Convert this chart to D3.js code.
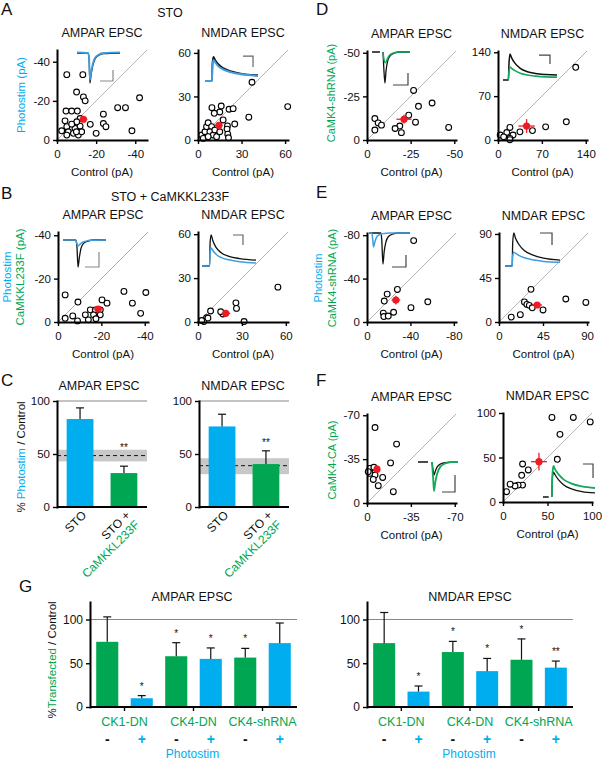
<!DOCTYPE html>
<html><head><meta charset="utf-8">
<script src="https://cdn.jsdelivr.net/npm/d3@7"></script>
<style>body{margin:0;background:#fff}</style>
</head><body><script>
// ================= DATA =================
// Scatter points: [control, test] in pA
const aAmpa = [[-5,-33.4],[-13.2,-33.4],[-10,-24.5],[-13.5,-22],[-14.4,-20],[-4.6,-14.8],[-7.5,-14.8],[-10.4,-14.8],[-11.8,-11],[-17,-8],[-20,-3.4],[-23.7,-13.2],[-23.7,-8.4],[-25,-6.8],[-31,-16.5],[-35,-16.5],[-38.3,-4.7],[-42.2,-21.6],[-4.1,-9.8],[-5,-6.8],[-2.4,-4.7],[-5.8,-4.2],[-9.2,-5.9],[-11.8,-7.1],[-8.4,-3.4],[-10.9,-2.5],[-12.6,-4.2],[-5,-2.5],[-10.1,-9.3],[-7.5,-8.1],[-9.9,-4.2]];
const aAmpaMean = [-13.5,-10.6,2.0,1.5];
const aNmda = [[37.2,39.8],[61.8,23],[9.6,22.3],[16,23.4],[15,19.3],[21.4,21.2],[24.2,21.6],[11.2,18.4],[25.3,11],[20.3,9.7],[35,15.7],[17.3,13.8],[20,7.5],[20.5,4],[21,1.5],[2.5,3.4],[4.8,5.7],[5.9,9.2],[7,11.9],[9.4,9.2],[8.2,5.7],[10.5,3.4],[3.6,1.1],[12.8,2.3],[11.6,6.9],[7,2.3],[15,5.7]];
const aNmdaMean = [14.4,10.1,2.5,2.0];
const bAmpa = [[-3.3,-12.5],[-9.2,-9.2],[-20.3,-10.2],[-22.6,-8.7],[-30.4,-14.1],[-40.5,-13.6],[-34.3,-8.7],[-38.1,-4],[-14.9,-5.6],[-17.2,-5.6],[-19.5,-5.6],[-12.6,-3.3],[-16.4,-3.3],[-19.5,-3.3],[-6.8,-2.8],[-3.3,-1.7],[-14,-1],[-17.5,-1.5],[-9,-0.5]];
const bAmpaMean = [-18.5,-6,2.5,1.0];
const bNmda = [[8.6,7.5],[5.9,3],[4,0.3],[6.8,2.7],[17,5.5],[15.5,7],[25.9,13.1],[26.3,9.3],[31.5,0.3],[54.6,23.8],[2.5,1]];
const bNmdaMean = [19,5.9,3,1.5];
const dAmpa = [[-26.7,-28.4],[-29.5,-19.3],[-37.3,-21.2],[-46.8,-7.2],[-27.8,-10.2],[-23.9,-14.2],[-18.8,-8],[-16.1,-6.6],[-19.7,-4.2],[-4.5,-12.3],[-6.4,-9.8],[-8.3,-8.5],[-4.5,-5.7]];
const dAmpaMean = [-21.2,-11.9,4.3,2.5];
const dNmda = [[124,116],[109,29],[76,21],[55,15],[35,13],[19,20],[3.5,8],[14,12],[24,8],[19,2.6],[19,0.5],[9,5]];
const dNmdaMean = [45.6,22.3,13,11];
const eAmpa = [[-43,-75],[-28,-30],[-18.6,-25.7],[-15.9,-19.3],[-56,-18.6],[-40.5,-13.2],[-24.5,-9],[-15,-8.2],[-15.5,-5],[-19.6,-5.5]];
const eAmpaMean = [-26.6,-20.2,4,4];
const eNmda = [[32.7,33.4],[26,20.5],[28.5,18],[31,17],[34,14.5],[45,12.3],[68.3,23.5],[88.8,20],[21.8,7.5],[12.5,5]];
const eNmdaMean = [39,17.4,5,3];
const fAmpa = [[-6.4,-60.2],[-23.6,-47],[-18.8,-32],[-2.4,-27.6],[-5.5,-28.5],[-2.4,-23.6],[-6.4,-22.3],[-5,-18.8],[-12.5,-20.4],[-9,-13.8],[-21,-9],[-1,-25]];
const fAmpaMean = [-8,-27,2,3];
const fNmda = [[55,95],[79,95],[98,90],[64,76],[61,48],[22,42.7],[21,30],[28.4,36],[22,19],[17,19],[13.5,18],[8,20],[4,11.6]];
const fNmdaMean = [40.4,45.3,9,10];

// Example traces: [time (% of sweep), amplitude (fraction of control peak)]
const aAmpaTrCtrl = [[0,0],[25,0],[28,-0.15],[30,-1],[33,-0.7],[37,-0.4],[42,-0.2],[50,-0.08],[62,-0.02],[100,0]];
const aAmpaTrTest = [[0,0.02],[25,0],[28,-0.12],[30,-0.9],[33,-0.62],[37,-0.35],[42,-0.16],[50,-0.06],[62,0],[100,0.02]];
const aNmdaTrCtrl = [[0,0],[13,0],[14,0.7],[16,1],[19,0.88],[25,0.7],[35,0.53],[50,0.4],[65,0.32],[80,0.27],[100,0.24]];
const aNmdaTrTest = [[0,0],[13,0],[14,0.6],[16,0.88],[19,0.78],[25,0.62],[35,0.47],[50,0.36],[65,0.29],[80,0.25],[100,0.21]];
const bAmpaTrCtrl = [[0,0],[29,0],[32,-0.15],[35,-1],[38,-0.65],[42,-0.3],[48,-0.12],[58,-0.04],[72,0],[100,0]];
const bAmpaTrTest = [[0,0],[29,0],[32,-0.12],[35,-0.22],[39,-0.16],[44,-0.1],[52,-0.05],[64,-0.01],[100,0]];
const bNmdaTrCtrl = [[0,0],[14,0],[15,0.75],[17,1],[20,0.82],[26,0.6],[36,0.42],[50,0.31],[70,0.24],[100,0.19]];
const bNmdaTrTest = [[0,0],[14,0],[15,0.45],[17,0.58],[20,0.5],[26,0.38],[36,0.27],[50,0.2],[70,0.14],[100,0.1]];
const dAmpaTrCtrl = [[0,0],[21,0],[25,null],[29,0],[31,-0.5],[34,-1],[37,-0.6],[41,-0.3],[48,-0.12],[58,-0.04],[75,0],[100,0]];
const dAmpaTrTest = [[29,0],[31,-0.2],[35,-0.35],[39,-0.26],[45,-0.12],[55,-0.04],[70,0],[100,0]];
const dNmdaTrCtrl = [[0,0],[10,0],[11,0.6],[13,1],[16,0.85],[22,0.65],[32,0.45],[45,0.32],[60,0.25],[80,0.21],[100,0.19]];
const dNmdaTrTest = [[10,0],[11,0.3],[13,0.5],[16,0.45],[22,0.36],[32,0.26],[45,0.19],[60,0.15],[80,0.12],[100,0.11]];
const eAmpaTrCtrl = [[0,0],[29,0],[31,-0.2],[34,-1],[37,-0.6],[41,-0.3],[47,-0.12],[57,-0.04],[72,0],[100,0]];
const eAmpaTrTest = [[0,0],[7,0],[9,-0.2],[11,-0.45],[14,-0.3],[18,-0.15],[24,-0.06],[34,-0.02],[50,0],[100,0]];
const eNmdaTrCtrl = [[0,0],[13,0],[14,0.7],[16,1],[19,0.85],[25,0.66],[35,0.47],[50,0.34],[70,0.24],[100,0.18]];
const eNmdaTrTest = [[0,0],[13,0],[14,0.3],[16,0.42],[19,0.39],[25,0.32],[35,0.25],[50,0.19],[70,0.14],[100,0.11]];
const fAmpaTrCtrl = [[0,0],[25,0],[30,null],[35,0],[38,-0.3],[40,-0.45],[43,-0.33],[48,-0.17],[56,-0.07],[68,-0.02],[100,0]];
const fAmpaTrTest = [[35,0],[38,-0.6],[40,-1],[43,-0.72],[48,-0.4],[56,-0.16],[68,-0.05],[85,0],[100,0]];
const fNmdaTrCtrl = [[0,0],[11,0],[14,null],[17,0],[18,0.6],[20,0.8],[23,0.72],[30,0.55],[40,0.39],[55,0.26],[75,0.17],[100,0.13]];
const fNmdaTrTest = [[17,0],[18,0.7],[20,1],[23,0.9],[30,0.73],[40,0.56],[55,0.43],[75,0.34],[100,0.29]];

// Panel C
const cCats = ['STO','STO + CaMKKL233F'];
const cTickLines = [['STO'],['STO +','CaMKKL233F']];
const cAmpaMean = [83,32], cAmpaErr = [10.5,6.5], cAmpaBand = [43,54], cAmpaBandMid = 48.5, cAmpaSig = ['','**'];
const cNmdaMean = [76,40.5], cNmdaErr = [11.5,12.5], cNmdaBand = [31,46], cNmdaBandMid = 39, cNmdaSig = ['','**'];
const cTicks = [0,50,100];

// Panel G
const gGroups = ['CK1-DN','CK4-DN','CK4-shRNA'];
const gStim = ['-','+'];
const gAmpaMean = [74.5,10,58,55,56.5,73], gAmpaErr = [28.5,3,15.5,12.5,10.5,23], gAmpaSig = ['','*','*','*','*',''];
const gNmdaMean = [73,17.6,62.8,41,54,45], gNmdaErr = [35,6.4,12.2,14.5,23.8,7.5], gNmdaSig = ['','*','*','*','*','**'];
const gTicks = [0,50,100];

// ================= DRAWING =================
const W=603,H=760;
const FONT='"Liberation Sans", Arial, Helvetica, sans-serif';
const BLUE='#00aeef', GREEN='#00a651', RED='#ed1c24', TRBLUE='#3f9ee0', TRGREEN='#14a85a', INK='#111';
const svg=d3.select('body').append('svg').attr('width',W).attr('height',H).attr('font-family',FONT);

function label(x,y,s,o={}){
  return svg.append('text').attr('x',x).attr('y',y).attr('font-size',o.size||12.5)
    .attr('fill',o.fill||INK).attr('text-anchor',o.anchor||'middle').text(s);
}
function vlabel(x,y,parts,size){
  const t=svg.append('text').attr('transform',`translate(${x},${y}) rotate(-90)`)
    .attr('text-anchor','middle').attr('font-size',size||11.5).style('white-space','pre');
  parts.forEach(p=>t.append('tspan').attr('fill',p[1]).text(p[0]));
}
function styleAxis(a,fs){
  a.attr('font-family',FONT).attr('font-size',fs);
  a.select('.domain').attr('stroke','#000').attr('stroke-width',2).attr('stroke-linecap','square');
  a.selectAll('.tick line').attr('stroke','#000').attr('stroke-width',1.4);
  a.selectAll('.tick text').attr('fill',INK);
}
function drawInset(g,ins){
  const tx=d3.scaleLinear().domain([0,100]).range([ins.x1,ins.x2]);
  const ty=d3.scaleLinear().domain([0,1]).range([ins.yb,ins.yb-ins.k]);
  const line=d3.line().defined(d=>d[1]!==null).x(d=>tx(d[0])).y(d=>ty(d[1])).curve(d3.curveMonotoneX);
  g.append('path').attr('d',line(ins.ctrl)).attr('fill','none').attr('stroke',INK).attr('stroke-width',ins.wc||1.3);
  g.append('path').attr('d',line(ins.test)).attr('fill','none').attr('stroke',ins.color).attr('stroke-width',ins.wt||1.5);
  g.append('path').attr('d',d3.line().x(d=>tx(d[0])).y(d=>ty(d[1]))(ins.bar)).attr('fill','none')
    .attr('stroke',ins.barColor||'#555').attr('stroke-width',1.2);
}
function scatter(c){
  const g=svg.append('g');
  const s=c.neg?-1:1;
  const x=d3.scaleLinear().domain([0,s*c.max]).range([c.x0,c.x0+c.size]);
  const y=d3.scaleLinear().domain([0,s*c.max]).range([c.y0,c.y0-c.size]);
  g.append('line').attr('x1',x(0)).attr('y1',y(0)).attr('x2',x(s*c.max)).attr('y2',y(s*c.max))
    .attr('stroke','#a0a0a0').attr('stroke-width',0.8);
  if(c.inset) drawInset(g,c.inset);
  g.selectAll('circle.pt').data(c.pts).join('circle').attr('class','pt')
    .attr('cx',d=>x(d[0])).attr('cy',d=>y(d[1])).attr('r',2.9)
    .attr('fill','#fff').attr('stroke','#000').attr('stroke-width',1.1);
  const m=c.mean;
  g.append('line').attr('x1',x(m[0]-m[2])).attr('x2',x(m[0]+m[2])).attr('y1',y(m[1])).attr('y2',y(m[1])).attr('stroke',RED).attr('stroke-width',1.3);
  g.append('line').attr('x1',x(m[0])).attr('x2',x(m[0])).attr('y1',y(m[1]-m[3])).attr('y2',y(m[1]+m[3])).attr('stroke',RED).attr('stroke-width',1.3);
  g.append('circle').attr('cx',x(m[0])).attr('cy',y(m[1])).attr('r',3.6).attr('fill',RED);
  const fmt=d=>String(d);
  const xa=g.append('g').attr('transform',`translate(0,${c.y0})`)
    .call(d3.axisBottom(x).tickValues(c.ticks).tickFormat(fmt).tickSize(4).tickSizeOuter(0).tickPadding(6));
  const ya=g.append('g').attr('transform',`translate(${c.x0},0)`)
    .call(d3.axisLeft(y).tickValues(c.ticks).tickFormat(fmt).tickSize(4).tickSizeOuter(0).tickPadding(3));
  styleAxis(xa,11.5); styleAxis(ya,11.5);
  g.append('text').attr('x',c.x0+c.size/2).attr('y',c.y0-c.size-13).attr('text-anchor','middle')
    .attr('font-size',12.5).attr('fill',INK).text(c.title);
  g.append('text').attr('x',c.x0+c.size/2).attr('y',c.y0+36).attr('text-anchor','middle')
    .attr('font-size',11.5).attr('fill',INK).text('Control (pA)');
}

const panels=[
 {x0:57,y0:140,size:90,max:46,neg:true,ticks:[0,-20,-40],title:'AMPAR EPSC',pts:aAmpa,mean:aAmpaMean,
  inset:{x1:77,x2:120,yb:53,k:30,ctrl:aAmpaTrCtrl,test:aAmpaTrTest,color:TRBLUE,wt:1.8,barColor:'#8a8a8a',bar:[[53.5,-0.933],[83.7,-0.933],[83.7,-0.567]]}},
 {x0:198,y0:140,size:90,max:62,neg:false,ticks:[0,30,60],title:'NMDAR EPSC',pts:aNmda,mean:aNmdaMean,
  inset:{x1:205,x2:258,yb:81,k:24,ctrl:aNmdaTrCtrl,test:aNmdaTrTest,color:TRBLUE,wc:1.8,wt:2,barColor:'#666',bar:[[71.7,1.04],[90.6,1.04],[90.6,0.583]]}},
 {x0:58,y0:322,size:90,max:41.5,neg:true,ticks:[0,-20,-40],title:'AMPAR EPSC',pts:bAmpa,mean:bAmpaMean,
  inset:{x1:63,x2:106,yb:240,k:27,ctrl:bAmpaTrCtrl,test:bAmpaTrTest,color:TRBLUE,barColor:'#8a8a8a',bar:[[51.2,-1],[83.7,-1],[83.7,-0.444]]}},
 {x0:198,y0:322,size:90,max:61.5,neg:false,ticks:[0,30,60],title:'NMDAR EPSC',pts:bNmda,mean:bNmdaMean,
  inset:{x1:202,x2:256,yb:266,k:31,ctrl:bNmdaTrCtrl,test:bNmdaTrTest,color:TRBLUE,barColor:'#666',bar:[[57.4,1],[75.9,1],[75.9,0.677]]}},
 {x0:367,y0:140,size:89,max:51,neg:true,ticks:[0,-25,-50],title:'AMPAR EPSC',pts:dAmpa,mean:dAmpaMean,
  inset:{x1:372,x2:410,yb:52,k:31,ctrl:dAmpaTrCtrl,test:dAmpaTrTest,color:TRGREEN,barColor:'#444',bar:[[55.3,-1.065],[94.7,-1.065],[94.7,-0.677]]}},
 {x0:498,y0:140,size:89,max:142,neg:false,ticks:[0,70,140],title:'NMDAR EPSC',pts:dNmda,mean:dNmdaMean,
  inset:{x1:503,x2:557,yb:80,k:26,ctrl:dNmdaTrCtrl,test:dNmdaTrTest,color:TRGREEN,wc:1.5,wt:1.6,barColor:'#444',bar:[[66.7,0.96],[87,0.96],[87,0.615]]}},
 {x0:367,y0:322,size:89,max:82,neg:true,ticks:[0,-40,-80],title:'AMPAR EPSC',pts:eAmpa,mean:eAmpaMean,
  inset:{x1:369,x2:410,yb:233,k:31,ctrl:eAmpaTrCtrl,test:eAmpaTrTest,color:TRBLUE,barColor:'#444',bar:[[56.1,-1.097],[90.2,-1.097],[90.2,-0.71]]}},
 {x0:499,y0:322,size:89,max:91,neg:false,ticks:[0,45,90],title:'NMDAR EPSC',pts:eNmda,mean:eNmdaMean,
  inset:{x1:505,x2:560,yb:266,k:33,ctrl:eNmdaTrCtrl,test:eNmdaTrTest,color:TRBLUE,barColor:'#444',bar:[[63.6,1],[85.5,1],[85.5,0.636]]}},
 {x0:367,y0:503,size:89,max:71,neg:true,ticks:[0,-35,-70],title:'AMPAR EPSC',pts:fAmpa,mean:fAmpaMean,
  inset:{x1:418,x2:458,yb:462,k:29,ctrl:fAmpaTrCtrl,test:fAmpaTrTest,color:TRGREEN,wt:1.8,barColor:'#444',bar:[[60,-1.034],[92.5,-1.034],[92.5,-0.448]]}},
 {x0:503,y0:502,size:89,max:100,neg:false,ticks:[0,50,100],title:'NMDAR EPSC',pts:fNmda,mean:fNmdaMean,
  inset:{x1:543,x2:595,yb:497,k:31,ctrl:fNmdaTrCtrl,test:fNmdaTrTest,color:TRGREEN,wt:1.8,barColor:'#444',bar:[[76.9,1.065],[96.2,1.065],[96.2,0.613]]}}
];
panels.forEach(scatter);

// ---- Panel C bars ----
function barC(c){
  const g=svg.append('g');
  const x=d3.scaleBand().domain(cCats).range([c.x0,c.x1]).paddingInner(0.39).paddingOuter(0.22);
  const y=d3.scaleLinear().domain([0,100]).range([c.y0,c.y0-106]);
  g.append('rect').attr('x',c.x0).attr('y',y(c.band[1])).attr('width',c.x1-c.x0)
    .attr('height',y(c.band[0])-y(c.band[1])).attr('fill','#c8c8c8');
  g.append('line').attr('x1',c.x0).attr('x2',c.x1).attr('y1',y(c.mid)).attr('y2',y(c.mid))
    .attr('stroke',INK).attr('stroke-width',1).attr('stroke-dasharray','4,3');
  g.append('line').attr('x1',c.x0).attr('x2',c.x1).attr('y1',y(100)).attr('y2',y(100))
    .attr('stroke','#888').attr('stroke-width',1);
  const cols=[BLUE,GREEN];
  g.selectAll('rect.bar').data(c.mean).join('rect').attr('class','bar')
    .attr('x',(d,i)=>x(cCats[i])).attr('y',d=>y(d)).attr('width',x.bandwidth())
    .attr('height',d=>y(0)-y(d)).attr('fill',(d,i)=>cols[i]);
  c.mean.forEach((d,i)=>{
    const cx=x(cCats[i])+x.bandwidth()/2, yt=y(d+c.err[i]);
    g.append('line').attr('x1',cx).attr('x2',cx).attr('y1',y(d)).attr('y2',yt).attr('stroke',INK).attr('stroke-width',1.2);
    g.append('line').attr('x1',cx-4).attr('x2',cx+4).attr('y1',yt).attr('y2',yt).attr('stroke',INK).attr('stroke-width',1.2);
    if(c.sig[i]) g.append('text').attr('x',cx).attr('y',Math.min(yt-5,y(c.band[1])+1)).attr('text-anchor','middle')
      .attr('font-size',10).attr('fill',INK).text(c.sig[i]);
    const t=g.append('text').attr('transform',`translate(${cx+7},${c.y0+9}) rotate(-45)`)
      .attr('text-anchor','end').attr('font-size',12);
    cTickLines[i].forEach((l,j)=>t.append('tspan').attr('x',0).attr('dy',j?'1.1em':0)
      .attr('fill',j?GREEN:INK).text(l));
  });
  g.append('line').attr('x1',c.x0).attr('x2',c.x1).attr('y1',c.y0).attr('y2',c.y0).attr('stroke','#000').attr('stroke-width',2);
  const ya=g.append('g').attr('transform',`translate(${c.x0},0)`)
    .call(d3.axisLeft(y).tickValues(cTicks).tickSize(4).tickSizeOuter(0).tickPadding(3));
  styleAxis(ya,11.5);
  g.append('text').attr('x',c.tx).attr('y',390).attr('text-anchor','middle').attr('font-size',12.5).attr('fill',INK).text(c.title);
}
barC({x0:57,x1:147,y0:507,mean:cAmpaMean,err:cAmpaErr,band:cAmpaBand,mid:cAmpaBandMid,sig:cAmpaSig,title:'AMPAR EPSC',tx:99});
barC({x0:199,x1:289,y0:507,mean:cNmdaMean,err:cNmdaErr,band:cNmdaBand,mid:cNmdaBandMid,sig:cNmdaSig,title:'NMDAR EPSC',tx:243});

// ---- Panel G bars ----
function barG(c){
  const g=svg.append('g');
  const cats=gGroups.flatMap(gr=>gStim.map(s=>gr+' '+s));
  const x=d3.scaleBand().domain(cats).range([c.x0,c.x1]).paddingInner(0.36).paddingOuter(0.18);
  const y=d3.scaleLinear().domain([0,120]).range([c.y0,c.y0-105]);
  g.append('line').attr('x1',c.x0).attr('x2',c.x1).attr('y1',y(100)).attr('y2',y(100)).attr('stroke','#888').attr('stroke-width',1.2);
  g.selectAll('rect.bar').data(c.mean).join('rect').attr('class','bar')
    .attr('x',(d,i)=>x(cats[i])).attr('y',d=>y(d)).attr('width',x.bandwidth())
    .attr('height',d=>y(0)-y(d)).attr('fill',(d,i)=>i%2?BLUE:GREEN);
  const bw=x.bandwidth();
  c.mean.forEach((d,i)=>{
    const cx=x(cats[i])+bw/2, yt=y(d+c.err[i]);
    g.append('line').attr('x1',cx).attr('x2',cx).attr('y1',y(d)).attr('y2',yt).attr('stroke',INK).attr('stroke-width',1.2);
    g.append('line').attr('x1',cx-4).attr('x2',cx+4).attr('y1',yt).attr('y2',yt).attr('stroke',INK).attr('stroke-width',1.2);
    if(c.sig[i]) g.append('text').attr('x',cx).attr('y',yt-6).attr('text-anchor','middle').attr('font-size',10).attr('fill',INK).text(c.sig[i]);
    g.append('text').attr('x',cx).attr('y',744).attr('text-anchor','middle').attr('font-size',14).attr('font-weight','bold')
      .attr('fill',i%2?BLUE:INK).text(gStim[i%2]);
  });
  g.append('line').attr('x1',c.x0).attr('x2',c.x1).attr('y1',c.y0).attr('y2',c.y0).attr('stroke','#000').attr('stroke-width',2);
  gGroups.forEach((gr,k)=>{
    const cx=(x(cats[2*k])+x(cats[2*k+1])+bw)/2;
    g.append('line').attr('x1',cx).attr('x2',cx).attr('y1',c.y0).attr('y2',c.y0+4).attr('stroke','#000').attr('stroke-width',1.4);
    g.append('text').attr('x',cx).attr('y',726).attr('text-anchor','middle').attr('font-size',12.5).attr('fill',GREEN).text(gr);
  });
  const ya=g.append('g').attr('transform',`translate(${c.x0},0)`)
    .call(d3.axisLeft(y).tickValues(gTicks).tickSize(4).tickSizeOuter(0).tickPadding(3));
  styleAxis(ya,12);
  g.append('text').attr('x',c.tx).attr('y',601).attr('text-anchor','middle').attr('font-size',12.5).attr('fill',INK).text(c.title);
  g.append('text').attr('x',(c.x0+c.x1)/2-1).attr('y',758).attr('text-anchor','middle').attr('font-size',12).attr('fill',BLUE).text('Photostim');
}
barG({x0:90,x1:297,y0:707,mean:gAmpaMean,err:gAmpaErr,sig:gAmpaSig,title:'AMPAR EPSC',tx:192});
barG({x0:367,x1:573,y0:707,mean:gNmdaMean,err:gNmdaErr,sig:gNmdaSig,title:'NMDAR EPSC',tx:470});

// ---- Labels ----
[['A',1,15],['B',1,199],['C',1,386],['D',316,15],['E',316,198],['F',316,386],['G',19,592]]
  .forEach(l=>label(l[1],l[2],l[0],{size:17,anchor:'start'}));
label(170,17,'STO');
label(170,201,'STO + CaMKKL233F');
vlabel(25,95,[['Photostim (pA)',BLUE]]);
vlabel(11,277,[['Photostim',BLUE]]);
vlabel(24,277,[['CaMKKL233F (pA)',GREEN]]);
vlabel(25,457,[['% ',INK],['Photostim',BLUE],[' / Control',INK]]);
vlabel(56,660,[['%',INK],['Transfected',GREEN],[' / Control',INK]]);
vlabel(335,93,[['CaMK4-shRNA (pA)',GREEN]],11);
vlabel(322,278,[['Photostim',BLUE]],11);
vlabel(336,278,[['CaMK4-shRNA (pA)',GREEN]],11);
vlabel(336,460,[['CaMK4-CA (pA)',GREEN]],11);
</script></body></html>
